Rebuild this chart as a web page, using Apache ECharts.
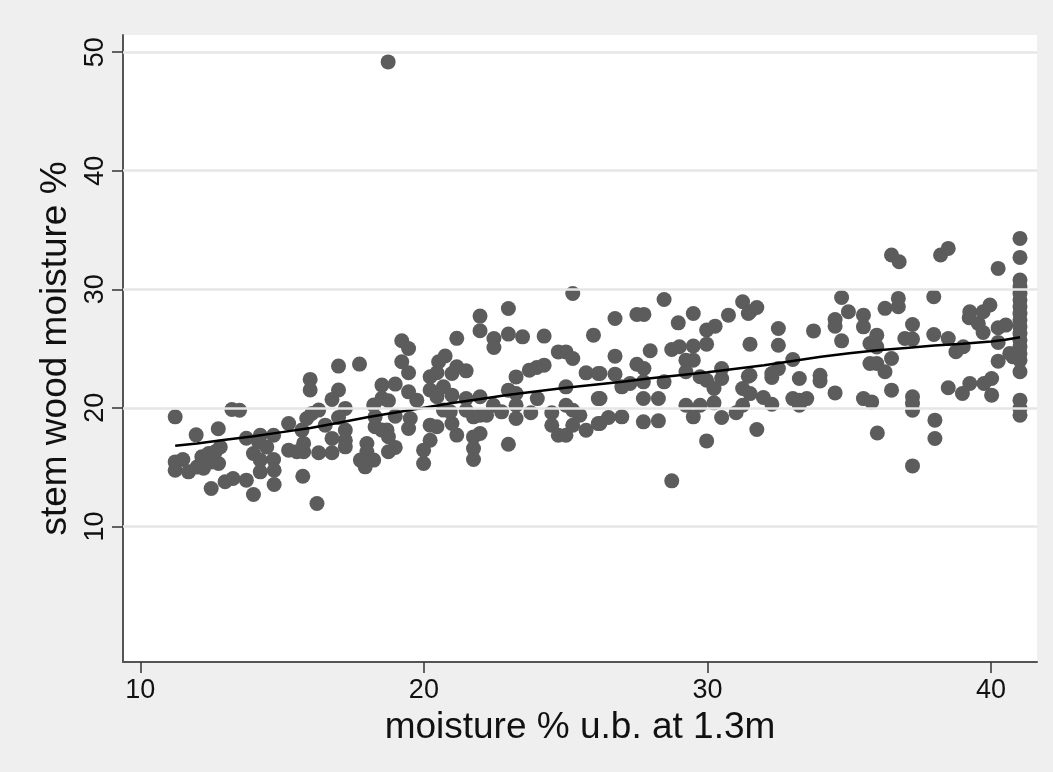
<!DOCTYPE html>
<html>
<head>
<meta charset="utf-8">
<script src="https://cdn.jsdelivr.net/npm/echarts@6/dist/echarts.min.js"></script>
<style>
html,body{margin:0;padding:0;background:#efefef;}
#chart{width:1053px;height:772px;}
</style>
</head>
<body>
<div id="chart"></div>
<script>
// [moisture % u.b. at 1.3m, stem wood moisture %]
const samples = [
[11.23,19.24],[13.23,19.86],[13.5,19.8],[11.97,17.72],[12.75,18.23],[15.23,18.68],[13.74,17.44],[14.23,17.69],[14.7,17.69],[14.17,17.13],
[14.46,16.7],[15.23,16.43],[15.52,16.29],[15.76,16.29],[13.99,16.15],[14.23,15.6],[14.7,15.64],[14.72,14.74],[14.23,14.6],[14.72,13.53],
[15.73,14.23],[13.99,12.69],[13.74,13.9],[12.99,13.76],[13.27,14.04],[12.5,13.19],[11.23,15.44],[11.5,15.64],[11.23,14.74],[11.7,14.6],
[12.0,15.0],[12.23,14.9],[12.17,15.87],[12.41,16.15],[12.64,16.29],[12.76,15.3],[12.53,15.44],[12.82,16.7],
[15.7,18.12],[15.76,17.0],
[19.22,25.66],[19.46,25.01],[19.22,23.89],[19.46,22.96],[21.16,25.86],[20.52,23.89],[20.75,24.37],[20.22,22.62],[20.46,22.96],[20.99,22.9],
[21.16,23.47],[16.99,23.52],[17.73,23.69],[15.99,22.4],[15.99,21.5],[16.99,21.5],[16.76,20.71],[17.23,19.95],[18.52,21.92],[18.99,22.0],
[18.23,20.23],[18.75,20.6],[19.46,21.35],[19.75,20.65],[20.22,21.5],[20.46,20.93],[20.69,21.78],[20.99,21.07],[16.05,19.53],[16.29,19.81],
[15.87,19.1],[16.52,18.54],[16.99,19.19],[16.76,17.42],[17.23,18.12],[17.23,17.27],[17.23,16.71],[16.29,16.21],[16.76,16.21],[16.23,11.93],
[17.99,16.99],[17.99,16.29],[17.76,15.59],[17.93,15.02],[18.23,15.59],[18.28,19.24],[18.28,18.4],[18.52,18.12],[18.7,18.12],[18.75,17.56],
[18.75,16.29],[18.99,16.66],[18.99,19.3],[19.52,19.1],[19.46,18.26],[20.22,18.54],[20.46,18.4],[20.22,17.27],[19.99,16.43],[19.99,15.31],
[20.69,19.81],[20.99,18.68],[21.16,17.7],[20.93,19.67],[18.52,20.8],
[25.25,29.65],[22.98,28.38],[21.98,27.74],[21.98,26.5],[22.47,25.85],[22.47,25.09],[22.98,26.22],[23.48,25.99],[24.24,26.05],[25.98,26.13],
[24.74,24.72],[25.01,24.72],[25.25,24.16],[23.72,23.18],[23.98,23.4],[24.24,23.6],[23.25,22.61],[25.72,22.95],[26.15,22.9],[21.49,23.12],
[22.98,21.49],[23.25,21.21],[23.25,20.22],[24.0,20.78],[25.01,21.77],[21.98,20.93],[22.45,20.22],[22.74,19.66],[22.21,19.38],[21.98,19.38],
[21.75,19.24],[21.49,20.78],[21.49,19.8],[23.25,19.1],[23.77,19.58],[24.51,19.58],[24.51,18.53],[24.74,17.69],[25.01,17.69],[25.01,20.22],
[25.25,19.8],[25.5,19.38],[25.25,18.53],[25.72,18.11],[26.15,20.78],[26.15,18.67],[21.75,17.55],[21.98,17.83],[21.75,16.56],[21.75,15.64],
[22.98,16.93],
[28.47,29.14],[31.24,28.95],[26.74,27.54],[27.51,27.88],[27.76,27.88],[29.5,27.96],[30.74,27.82],[31.44,27.96],[28.97,27.17],[29.97,26.56],
[30.27,26.89],[29.97,25.37],[29.5,25.21],[26.74,24.36],[27.98,24.81],[28.74,24.92],[29.01,25.15],[27.51,23.68],[27.76,23.32],[29.24,24.02],
[29.5,24.02],[26.21,22.9],[26.74,22.84],[27.27,22.05],[26.98,21.77],[27.74,22.19],[28.47,22.19],[29.24,23.04],[29.74,22.62],[29.97,22.33],
[30.23,21.63],[30.5,22.47],[30.5,23.32],[31.24,21.63],[31.44,22.67],[26.21,20.79],[27.74,20.79],[28.27,20.79],[29.24,20.22],[29.74,20.22],
[30.23,20.42],[31.24,20.22],[31.01,19.58],[26.21,18.68],[26.51,19.18],[26.98,19.24],[27.74,18.82],[28.27,18.9],[29.5,19.24],[30.5,19.18],
[29.97,17.21],[28.74,13.84],
[34.73,29.31],[31.5,28.1],[31.74,28.46],[34.97,28.1],[34.5,27.45],[34.5,26.89],[35.5,27.82],[35.5,26.83],[32.5,26.69],[33.74,26.49],
[31.5,25.37],[32.5,25.28],[34.73,25.65],[35.73,25.43],[35.97,26.13],[35.97,25.14],[33.01,24.08],[32.5,23.31],[32.27,22.89],[32.27,22.56],
[31.5,22.75],[33.24,22.47],[33.97,22.75],[33.97,22.27],[35.73,23.74],[35.97,23.74],[31.5,21.2],[31.97,20.87],[32.27,20.3],[33.01,20.78],
[33.24,20.64],[33.5,20.78],[33.24,20.22],[34.5,21.26],[35.5,20.78],[35.79,20.5],[31.74,18.17],[35.99,17.88],
[41.02,34.29],[41.02,32.69],[36.49,32.89],[36.76,32.32],[38.22,32.89],[38.49,33.45],[40.25,31.76],
[41.02,30.78],[41.02,30.21],[41.02,29.65],[41.02,29.09],[41.02,28.53],[41.02,27.96],[41.02,27.4],[41.02,26.84],[41.02,26.27],[41.02,25.71],
[41.02,25.15],[41.02,24.59],[41.02,24.02],[41.02,23.04],[41.02,20.65],[41.02,19.94],[41.02,19.38],
[40.66,24.59],[40.78,24.3],[36.26,28.39],[36.73,29.23],[36.73,28.53],[37.98,29.37],[37.23,27.03],[36.96,25.85],[37.23,25.8],[37.98,26.19],
[38.49,25.85],[38.76,24.73],[39.02,25.15],[39.25,28.1],[39.23,27.6],[39.55,27.12],[39.72,28.1],[39.96,28.67],[39.72,26.36],[40.25,26.75],
[40.52,26.98],[40.25,25.52],[40.25,23.94],[36.49,24.16],[36.26,23.04],[36.49,21.49],[37.23,20.93],[37.23,20.37],[37.23,19.8],[37.23,15.1],
[38.02,18.96],[38.02,17.41],[38.49,21.69],[38.99,21.21],[39.25,22.05],[39.75,22.05],[40.02,22.48],[40.02,21.07],
[18.74,49.18]
];

// lowess smooth
const lowessX = [11.23,12,13,14,15,16,17,18,19,20,21,22,23,24,25,26,27,28,29,30,31,32,33,34,35,36,37,38,39,40,40.5,41.02];
const lowessY = [16.8,17.0,17.3,17.6,17.95,18.3,18.75,19.2,19.6,20.0,20.4,20.75,21.1,21.4,21.7,21.95,22.2,22.5,22.75,23.0,23.3,23.6,23.95,24.3,24.6,24.85,25.05,25.25,25.4,25.6,25.75,25.95];

const xTicks = [10,20,30,40];
const yTicks = [10,20,30,40,50];

const FONT = "'Liberation Sans', Arial, Helvetica, sans-serif";
const chart = echarts.init(document.getElementById('chart'), null, {renderer:'canvas'});
chart.setOption({
  backgroundColor:'#efefef',
  animation:false,
  grid:{left:123, top:35, right:16, bottom:110, show:true, backgroundColor:'#ffffff', borderWidth:0},
  xAxis:{
    type:'value', min:9.39, max:41.62,
    axisLine:{show:true, onZero:false, lineStyle:{color:'#555555', width:2}},
    axisTick:{show:true, customValues:xTicks, length:11, lineStyle:{color:'#333333', width:1.5}},
    axisLabel:{customValues:xTicks, fontSize:27, color:'#111111', margin:15, fontFamily:FONT},
    splitLine:{show:false},
    name:'moisture % u.b. at 1.3m', nameLocation:'middle', nameGap:47,
    nameTextStyle:{fontSize:37, color:'#111111', fontFamily:FONT}
  },
  yAxis:{
    type:'value', min:-1.44, max:51.45,
    axisLine:{show:true, onZero:false, lineStyle:{color:'#555555', width:2}},
    axisTick:{show:true, customValues:yTicks, length:11, lineStyle:{color:'#333333', width:1.5}},
    axisLabel:{customValues:yTicks, fontSize:27, color:'#111111', margin:14, rotate:90, fontFamily:FONT},
    splitLine:{show:false},
    name:'stem wood moisture %', nameLocation:'middle', nameGap:47,
    nameTextStyle:{fontSize:37, color:'#111111', fontFamily:FONT}
  },
  series:[
    {
      type:'line', data:[], silent:true, z:1,
      markLine:{
        silent:true, symbol:['none','none'], label:{show:false},
        lineStyle:{color:'#e6e6e6', width:2.5, type:'solid'},
        data: yTicks.map(v => ({yAxis:v}))
      }
    },
    {
      type:'scatter', z:3,
      data: samples,
      symbol:'circle', symbolSize:15,
      itemStyle:{color:'#5c5c5c', opacity:1}
    },
    {
      type:'line', z:4,
      data: lowessX.map((x,i)=>[x, lowessY[i]]),
      showSymbol:false, smooth:false,
      lineStyle:{color:'#000000', width:2.5}
    }
  ]
});
</script>
</body>
</html>
